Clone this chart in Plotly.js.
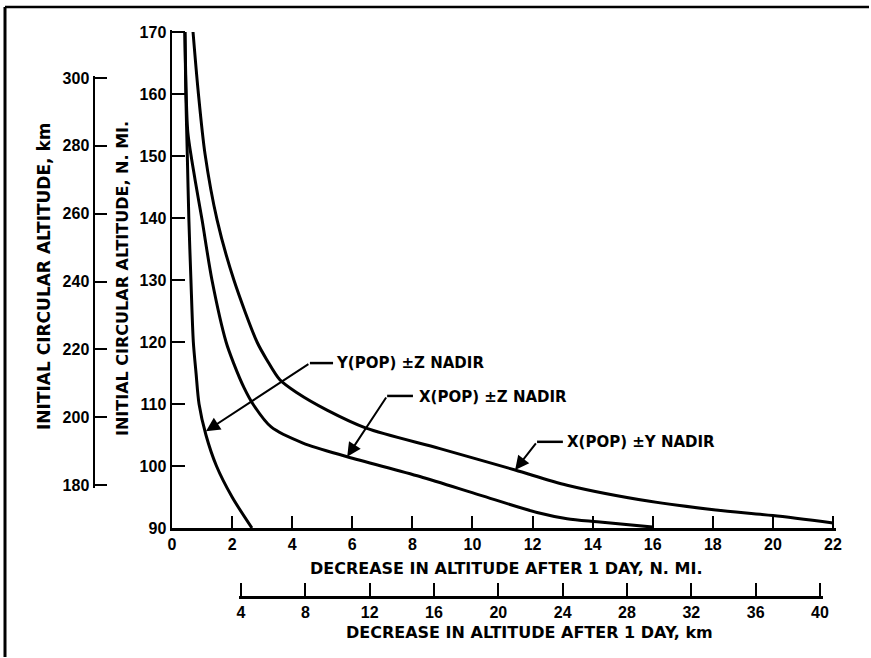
<!DOCTYPE html>
<html>
<head>
<meta charset="utf-8">
<script src="https://cdn.plot.ly/plotly-3.0.1.min.js"></script>
<style>html,body{margin:0;padding:0;background:#fff;}</style>
</head>
<body>
<div id="chart" style="width:871px;height:658px;"></div>
<script>
// ---- data ----
const xTicksNmi = [0, 2, 4, 6, 8, 10, 12, 14, 16, 18, 20, 22];
const yTicksNmi = [90, 100, 110, 120, 130, 140, 150, 160, 170];
const xTicksKm = [4, 8, 12, 16, 20, 24, 28, 32, 36, 40];
const yTicksKm = [180, 200, 220, 240, 260, 280, 300];

const seriesNames = ["Y(POP) ±Z NADIR", "X(POP) ±Z NADIR", "X(POP) ±Y NADIR"];

const yPopZ_x = [0.43, 0.46, 0.51, 0.56, 0.63, 0.71, 0.80, 0.90, 1.13, 1.48, 2.00, 2.66];
const yPopZ_y = [170, 160, 150, 140, 130, 120, 115, 110, 105, 100, 95, 90];

const xPopZ_x = [0.43, 0.47, 0.53, 0.77, 1.00, 1.33, 1.80, 2.05, 2.40, 2.72, 3.30, 4.36, 5.83, 8.25, 10.25, 12.15, 13.15, 14.15, 16.0];
const xPopZ_y = [170, 160.5, 153.7, 146.1, 139.7, 130, 120, 116.6, 112.6, 109.8, 106.3, 103.7, 101.5, 98.3, 95.3, 92.5, 91.5, 91.0, 90.15];

const xPopY_x = [0.70, 0.87, 1.10, 1.50, 2.06, 2.83, 3.16, 3.59, 4.16, 5.16, 6.46, 8.92, 11.42, 13.15, 15.9, 18.1, 20.0, 22.0];
const xPopY_y = [170, 160.5, 150.3, 139.7, 130, 120, 117.1, 113.9, 111.8, 109.0, 106.1, 102.8, 99.35, 96.9, 94.3, 92.9, 92.0, 90.8];

// ---- layout helpers (pixel geometry of the page) ----
const W = 871, H = 658;
const px = v => v / W;            // pixel x -> paper
const py = v => (H - v) / H;      // pixel y -> paper
const PAD = 2.5;                  // px beyond end ticks so Plotly keeps them

const kX = (833 - 172) / 22, kY = (528 - 32) / 80;
const kXkm = (820 - 241) / 36, kYkm = (485 - 78) / 120;

const boldTick = {family: "Liberation Sans, Arial, sans-serif", size: 16, color: "#000", weight: "bold"};
const boldText = {family: "DejaVu Sans, sans-serif", size: 15, color: "#000", weight: "bold"};
const titleFont = {family: "DejaVu Sans, sans-serif", size: 16, color: "#000", weight: "bold"};
const titleFontKm = {family: "DejaVu Sans, sans-serif", size: 17, color: "#000", weight: "bold"};

const lineStyle = {color: "#000", width: 3, shape: "spline", smoothing: 0.8};

const traces = [
  {x: yPopZ_x, y: yPopZ_y, name: seriesNames[0], mode: "lines", line: lineStyle, hoverinfo: "skip"},
  {x: xPopZ_x, y: xPopZ_y, name: seriesNames[1], mode: "lines", line: lineStyle, hoverinfo: "skip"},
  {x: xPopY_x, y: xPopY_y, name: seriesNames[2], mode: "lines", line: lineStyle, hoverinfo: "skip"},
  // empty traces so the km axes get their own (hidden) subplots
  {x: [], y: [], xaxis: "x3", yaxis: "y2", mode: "lines", showlegend: false, hoverinfo: "skip"},
  {x: [], y: [], xaxis: "x2", yaxis: "y3", mode: "lines", showlegend: false, hoverinfo: "skip"}
];

const axisCommon = {
  showline: true, linecolor: "#000", linewidth: 2.5,
  ticks: "inside", ticklen: 13, tickwidth: 2, tickcolor: "#000",
  showgrid: false, zeroline: false, fixedrange: true,
  tickfont: boldTick, tickmode: "array"
};
const hiddenAxis = {visible: false, showgrid: false, zeroline: false, range: [0, 1], fixedrange: true};

const layout = {
  width: W, height: H, autosize: false,
  margin: {l: 0, r: 0, t: 0, b: 0, pad: 0},
  paper_bgcolor: "#fff", plot_bgcolor: "rgba(0,0,0,0)",
  showlegend: false,
  xaxis: Object.assign({}, axisCommon, {
    domain: [px(172), px(833 + PAD)], range: [0, 22 + PAD / kX], anchor: "y",
    tickvals: xTicksNmi, ticktext: xTicksNmi.map(String), ticklen: 12
  }),
  yaxis: Object.assign({}, axisCommon, {
    domain: [py(528), py(32 - PAD)], range: [90, 170 + PAD / kY], anchor: "x",
    tickvals: yTicksNmi, ticktext: yTicksNmi.map(String)
  }),
  xaxis2: Object.assign({}, axisCommon, {
    domain: [px(241 - PAD), px(820 + PAD)], range: [4 - PAD / kXkm, 40 + PAD / kXkm], anchor: "y3",
    side: "bottom", tickvals: xTicksKm, ticktext: xTicksKm.map(String)
  }),
  yaxis3: Object.assign({}, hiddenAxis, {domain: [py(596), py(40)], anchor: "x2"}),
  yaxis2: Object.assign({}, axisCommon, {
    domain: [py(485 + PAD), py(78 - PAD)], range: [180 - PAD / kYkm, 300 + PAD / kYkm], anchor: "x3",
    side: "left", tickvals: yTicksKm, ticktext: yTicksKm.map(String), ticklen: 12
  }),
  xaxis3: Object.assign({}, hiddenAxis, {domain: [px(95), px(150)], anchor: "y2"}),
  shapes: [
    {type: "line", xref: "paper", yref: "paper", x0: px(5), x1: px(5), y0: py(657), y1: py(7), line: {color: "#000", width: 3}},
    {type: "line", xref: "paper", yref: "paper", x0: px(5), x1: px(869), y0: py(7), y1: py(7), line: {color: "#000", width: 2.5}},
    {type: "line", xref: "x", yref: "y", x0: 4.59, x1: 5.36, y0: 116.6, y1: 116.6, line: {color: "#000", width: 2.5}},
    {type: "line", xref: "x", yref: "y", x0: 7.16, x1: 8.02, y0: 111.3, y1: 111.3, line: {color: "#000", width: 2.5}},
    {type: "line", xref: "x", yref: "y", x0: 12.15, x1: 13.01, y0: 103.9, y1: 103.9, line: {color: "#000", width: 2.5}}
  ],
  annotations: [
    {xref: "x", yref: "y", axref: "x", ayref: "y", x: 1.13, y: 105.6, ax: 4.59, ay: 116.6, text: "", showarrow: true,
     arrowhead: 2, arrowsize: 1.4, arrowwidth: 2, arrowcolor: "#000", standoff: 0, startstandoff: 0},
    {xref: "x", yref: "y", axref: "x", ayref: "y", x: 5.83, y: 101.5, ax: 7.16, ay: 111.3, text: "", showarrow: true,
     arrowhead: 2, arrowsize: 1.4, arrowwidth: 2, arrowcolor: "#000", standoff: 0, startstandoff: 0},
    {xref: "x", yref: "y", axref: "x", ayref: "y", x: 11.42, y: 99.35, ax: 12.15, ay: 103.9, text: "", showarrow: true,
     arrowhead: 2, arrowsize: 1.4, arrowwidth: 2, arrowcolor: "#000", standoff: 0, startstandoff: 0},
    {xref: "x", yref: "y", x: 5.40, y: 116.6, text: seriesNames[0], showarrow: false, xanchor: "left", yanchor: "middle", font: boldText},
    {xref: "x", yref: "y", x: 8.15, y: 111.1, text: seriesNames[1], showarrow: false, xanchor: "left", yanchor: "middle", font: boldText},
    {xref: "x", yref: "y", x: 13.08, y: 103.8, text: seriesNames[2], showarrow: false, xanchor: "left", yanchor: "middle", font: boldText},
    {xref: "paper", yref: "paper", x: px(506), y: py(568), text: "DECREASE IN ALTITUDE AFTER 1 DAY, N. MI.", showarrow: false,
     xanchor: "center", yanchor: "middle", font: titleFont},
    {xref: "paper", yref: "paper", x: px(529), y: py(632), text: "DECREASE IN ALTITUDE AFTER 1 DAY, km", showarrow: false,
     xanchor: "center", yanchor: "middle", font: titleFont},
    {xref: "paper", yref: "paper", x: px(44), y: py(276), text: "INITIAL CIRCULAR ALTITUDE, km", showarrow: false,
     xanchor: "center", yanchor: "middle", textangle: -90, font: titleFontKm},
    {xref: "paper", yref: "paper", x: px(122), y: py(279), text: "INITIAL CIRCULAR ALTITUDE, N. MI.", showarrow: false,
     xanchor: "center", yanchor: "middle", textangle: -90, font: titleFont}
  ]
};

Plotly.newPlot("chart", traces, layout, {staticPlot: true, displayModeBar: false});
</script>
</body>
</html>
